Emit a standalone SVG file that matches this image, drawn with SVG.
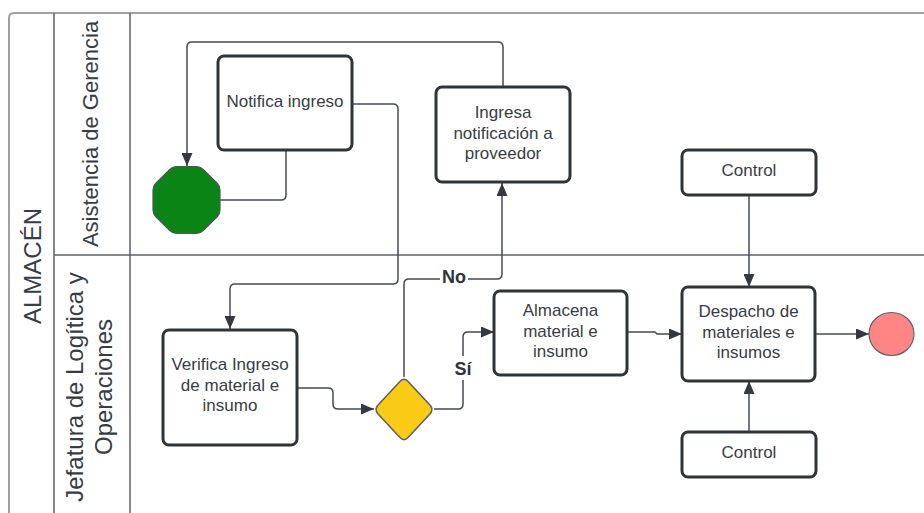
<svg xmlns="http://www.w3.org/2000/svg" width="924" height="513" viewBox="0 0 924 513">
  <defs>
    <style>
      .lane { fill: none; stroke: #5c6168; stroke-width: 1.5; }
      .frame { fill: none; stroke: #9da1a6; stroke-width: 2; }
      .box { fill: #ffffff; stroke: #2f343b; stroke-width: 3; }
      .txt { font-family: "Liberation Sans", Arial, sans-serif; font-size: 17px; fill: #383d44; text-anchor: middle; }
      .lanetxt { font-family: "Liberation Sans", Arial, sans-serif; fill: #383d44; text-anchor: middle; }
      .lbl { font-family: "Liberation Sans", Arial, sans-serif; font-size: 18px; font-weight: bold; fill: #2f343b; text-anchor: middle; }
      .conn { fill: none; stroke: #454b53; stroke-width: 1.5; }
      .conn-arrow { marker-end: url(#arrow); }
    </style>
    <marker id="arrow" markerUnits="userSpaceOnUse" markerWidth="13" markerHeight="11" refX="13" refY="5.5" orient="auto">
      <path d="M0,0 L13,5.5 L0,11 Z" fill="#333941"/>
    </marker>
  </defs>

  <rect width="924" height="513" fill="#ffffff"/>

  <!-- Pool and lanes -->
  <g id="pool">
    <path class="frame" d="M9,513 V18 Q9,13 14,13 H924"/>
    <line class="lane" x1="54" y1="13" x2="54" y2="513"/>
    <line class="lane" x1="130" y1="13" x2="130" y2="513"/>
    <line class="lane" x1="54" y1="255" x2="924" y2="255" stroke="#6a6f75" stroke-width="2"/>
    <text class="lanetxt" font-size="24" transform="translate(41,266) rotate(-90)">ALMACÉN</text>
    <text class="lanetxt" font-size="22" transform="translate(98,134) rotate(-90)">Asistencia de Gerencia</text>
    <text class="lanetxt" font-size="24" transform="translate(83,387) rotate(-90)">Jefatura de Logítica y</text>
    <text class="lanetxt" font-size="24" transform="translate(112,387) rotate(-90)">Operaciones</text>
  </g>

  <!-- Connectors -->
  <g id="connectors">
    <path class="conn" d="M286,150 V195 Q286,200 281,200 H220"/>
    <path class="conn conn-arrow" d="M503,87 V47 Q503,42 498,42 H192 Q187,42 187,47 V166"/>
    <path class="conn conn-arrow" d="M352,104 H393 Q398,104 398,109 V279 Q398,284 393,284 H235 Q230,284 230,289 V329"/>
    <path class="conn conn-arrow" d="M297,388 H328 Q333,388 333,393 V404 Q333,409 338,409 H374"/>
    <path class="conn conn-arrow" d="M404,377 V284 Q404,279 409,279 H497 Q502,279 502,274 V183"/>
    <path class="conn conn-arrow" d="M434,409 H458 Q463,409 463,404 V337 Q463,332 468,332 H494"/>
    <path class="conn conn-arrow" d="M627,332 H655 L657,334 H682"/>
    <path class="conn conn-arrow" d="M749,195 V287"/>
    <path class="conn conn-arrow" d="M749,432 V381"/>
    <path class="conn conn-arrow" d="M815,334 H869"/>
    <rect x="440" y="267" width="28" height="22" fill="#ffffff"/>
    <text class="lbl" x="454" y="283">No</text>
    <rect x="452" y="356" width="23" height="24" fill="#ffffff"/>
    <text class="lbl" x="463" y="375">Sí</text>
  </g>

  <!-- Start event: octagon with softened corners -->
  <g id="start">
    <path d="M176.6,166.5 H196.4 Q200.4,166.5 203.23,169.33 L217.17,183.27 Q220,186.1 220,190.1 V209.9 Q220,213.9 217.17,216.73 L203.23,230.67 Q200.4,233.5 196.4,233.5 H176.6 Q172.6,233.5 169.77,230.67 L155.83,216.73 Q153,213.9 153,209.9 V190.1 Q153,186.1 155.83,183.27 L169.77,169.33 Q172.6,166.5 176.6,166.5 Z" fill="#0b8416" stroke="#4f555c" stroke-width="1.2"/>
  </g>

  <g id="notifica-ingreso">
    <rect class="box" x="218" y="56" width="134" height="94" rx="6"/>
    <text class="txt" x="285" y="107">Notifica ingreso</text>
  </g>

  <g id="ingresa-notificacion">
    <rect class="box" x="436" y="87" width="134" height="95" rx="6"/>
    <text class="txt" x="503" y="118">Ingresa</text>
    <text class="txt" x="503" y="138.5">notificación a</text>
    <text class="txt" x="503" y="159">proveedor</text>
  </g>

  <g id="control-top">
    <rect class="box" x="682" y="150" width="134" height="45" rx="6"/>
    <text class="txt" x="749" y="176">Control</text>
  </g>

  <g id="verifica-ingreso">
    <rect class="box" x="163" y="330" width="134" height="115" rx="6"/>
    <text class="txt" x="230" y="370">Verifica Ingreso</text>
    <text class="txt" x="230" y="390.5">de material e</text>
    <text class="txt" x="230" y="411">insumo</text>
  </g>

  <g id="gateway">
    <path d="M408.07,381.41 L429.93,405.09 Q434,409.5 429.93,413.91 L408.07,437.59 Q404,442 399.93,437.59 L378.07,413.91 Q374,409.5 378.07,405.09 L399.93,381.41 Q404,377 408.07,381.41 Z" fill="#facb16" stroke="#5b5f63" stroke-width="1.5"/>
  </g>

  <g id="almacena">
    <rect class="box" x="494" y="291" width="133" height="84" rx="6"/>
    <text class="txt" x="560.5" y="316">Almacena</text>
    <text class="txt" x="560.5" y="336.5">material e</text>
    <text class="txt" x="560.5" y="357">insumo</text>
  </g>

  <g id="despacho">
    <rect class="box" x="682" y="287" width="133" height="94" rx="6"/>
    <text class="txt" x="748.5" y="317">Despacho de</text>
    <text class="txt" x="748.5" y="337.5">materiales e</text>
    <text class="txt" x="748.5" y="358">insumos</text>
  </g>

  <g id="control-bottom">
    <rect class="box" x="682" y="432" width="134" height="45" rx="6"/>
    <text class="txt" x="749" y="458">Control</text>
  </g>

  <!-- End event -->
  <g id="end">
    <ellipse cx="891.5" cy="334" rx="22.5" ry="21.5" fill="#ff8585" stroke="#5f6368" stroke-width="1.2"/>
  </g>
</svg>
